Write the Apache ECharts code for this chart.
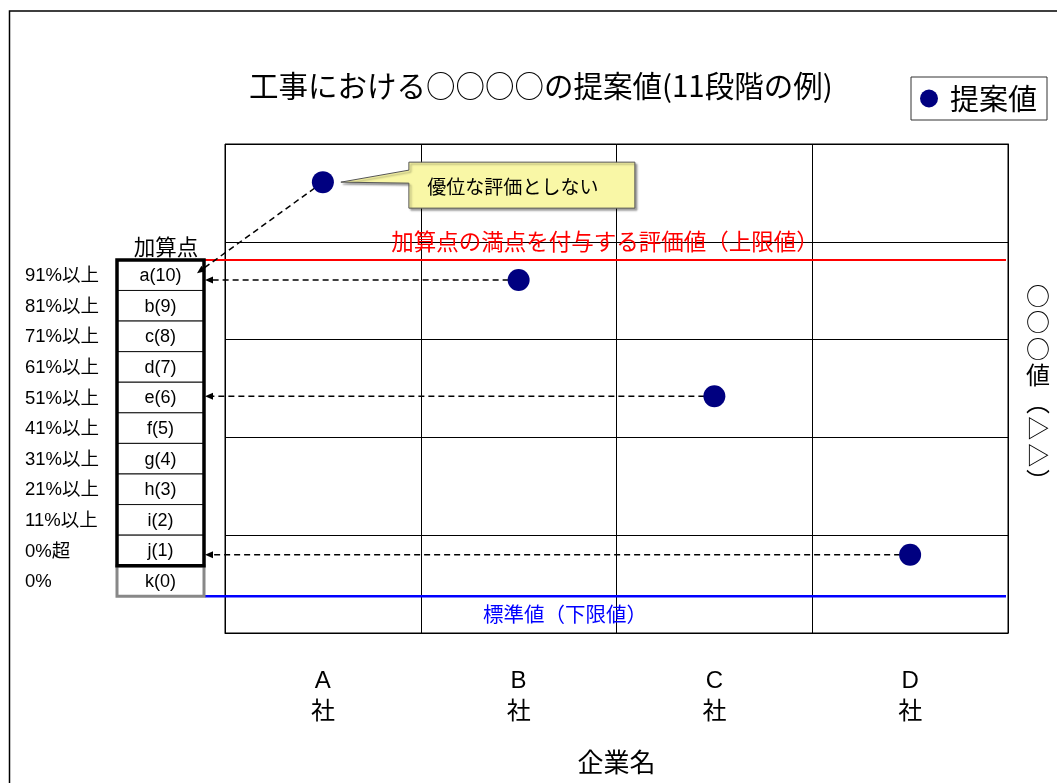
<!DOCTYPE html>
<html>
<head>
<meta charset="utf-8">
<script src="https://cdn.jsdelivr.net/npm/echarts@6/dist/echarts.min.js"></script>
<style>
  html, body { margin: 0; padding: 0; background: #fff; }
  #chart { width: 1057px; height: 783px; }
</style>
</head>
<body>
<div id="chart"></div>
<script>
// ---- data ----
const chartTitle = '工事における○○○○の提案値(11段階の例)';
const seriesName = '提案値';
const companies = ['A社', 'B社', 'C社', 'D社'];
const proposals = [92.2, 72.2, 48.4, 16.0];      // proposed value per company
const upperLimit = 76.3;                         // value that earns full bonus points
const lowerLimit = 7.5;                          // standard value
const upperLabel = '加算点の満点を付与する評価値（上限値）';
const lowerLabel = '標準値（下限値）';
const tableHeader = '加算点';
const rateLabels = ['91%以上', '81%以上', '71%以上', '61%以上', '51%以上', '41%以上',
                    '31%以上', '21%以上', '11%以上', '0%超', '0%'];
const scoreLabels = ['a(10)', 'b(9)', 'c(8)', 'd(7)', 'e(6)', 'f(5)',
                     'g(4)', 'h(3)', 'i(2)', 'j(1)', 'k(0)'];
const calloutText = '優位な評価としない';
const xAxisName = '企業名';
const yAxisName = '○○○値︵▷▷︶';

// ---- chart ----
const CJK = '"Noto Sans CJK JP"';
const MIXED = '"Liberation Sans", "Noto Sans CJK JP"';
const chart = echarts.init(document.getElementById('chart'), null, { renderer: 'canvas' });

chart.setOption({
  animation: false,
  backgroundColor: '#ffffff',
  title: {
    text: chartTitle,
    left: 244,
    top: 66,
    textStyle: { fontFamily: CJK, fontSize: 29.5, fontWeight: 'normal', color: '#000' }
  },
  legend: {
    left: 911,
    top: 77,
    padding: [7, 10, 7, 9],
    borderColor: '#333',
    borderWidth: 1,
    itemWidth: 18,
    itemHeight: 18,
    icon: 'circle',
    data: [seriesName],
    textStyle: { fontFamily: CJK, fontSize: 29, color: '#000', padding: [0, 0, 0, 7] }
  },
  grid: { left: 225, right: 49, top: 144, bottom: 150, show: true, borderColor: '#000', borderWidth: 1 },
  xAxis: {
    type: 'category',
    data: companies,
    axisLine: { show: true, lineStyle: { color: '#000', width: 1 } },
    axisTick: { show: false },
    splitLine: { show: true, interval: 0, lineStyle: { color: '#000', width: 1 } },
    axisLabel: {
      interval: 0,
      margin: 33,
      formatter: v => v.split('').join('\n'),
      fontFamily: MIXED,
      fontSize: 24,
      lineHeight: 31,
      color: '#000'
    },
    name: xAxisName,
    nameLocation: 'middle',
    nameGap: 116,
    nameTextStyle: { fontFamily: CJK, fontSize: 26, color: '#000' }
  },
  yAxis: {
    type: 'value',
    position: 'right',
    min: 0,
    max: 100,
    interval: 20,
    axisLabel: { show: false },
    axisTick: { show: false },
    axisLine: { show: true, lineStyle: { color: '#000', width: 1 } },
    splitLine: { show: true, lineStyle: { color: '#000', width: 1 } },
    name: yAxisName.split('').join('\n'),
    nameLocation: 'middle',
    nameRotate: 0,
    nameGap: 18,
    nameTextStyle: { fontFamily: CJK, fontSize: 24, lineHeight: 26.5, color: '#000' }
  },
  series: [{
    type: 'scatter',
    name: seriesName,
    data: proposals,
    symbolSize: 22,
    itemStyle: { color: '#000080', opacity: 1 },
    emphasis: { disabled: true },
    z: 5
  }]
});

// ---- overlay: limit lines, score table, arrows, callout ----
const yPix = v => chart.convertToPixel({ yAxisIndex: 0 }, v);
const ptPix = (i, v) => chart.convertToPixel({ gridIndex: 0 }, [i, v]);
const gridRect = chart.getModel().getComponent('grid').coordinateSystem.getRect();

const tableLeft = 117, tableRight = 204;
const yTop = yPix(upperLimit);
const yBottom = yPix(lowerLimit);
const rowH = (yBottom - yTop) / scoreLabels.length;
const lineStart = tableRight + 1;
const lineEnd = gridRect.x + gridRect.width - 2;

const g = [];

// outer frame
g.push({ type: 'rect', shape: { x: 9.5, y: 11, width: 1200, height: 1000 },
  style: { fill: 'none', stroke: '#000', lineWidth: 1.5 }, z: 0 });

// limit lines and their captions
g.push({ type: 'line', shape: { x1: lineStart, y1: yTop, x2: lineEnd, y2: yTop },
  style: { stroke: '#ff0000', lineWidth: 2 }, z: 2 });
g.push({ type: 'line', shape: { x1: lineStart, y1: yBottom, x2: lineEnd, y2: yBottom },
  style: { stroke: '#0000ff', lineWidth: 2.5 }, z: 2 });
g.push({ type: 'text', x: 605, y: yTop - 18, z: 3,
  style: { text: upperLabel, font: '22.5px ' + CJK, fill: '#ff0000', align: 'center', verticalAlign: 'middle' } });
g.push({ type: 'text', x: 565, y: yBottom + 18, z: 3,
  style: { text: lowerLabel, font: '20.5px ' + CJK, fill: '#0000ff', align: 'center', verticalAlign: 'middle' } });

// score table
g.push({ type: 'text', x: 166, y: yTop - 13, z: 3,
  style: { text: tableHeader, font: '21.5px ' + CJK, fill: '#000', align: 'center', verticalAlign: 'middle' } });
scoreLabels.forEach((s, i) => {
  const y = yTop + i * rowH;
  g.push({ type: 'rect', shape: { x: tableLeft, y: y, width: tableRight - tableLeft, height: rowH },
    style: { fill: '#fff', stroke: '#111', lineWidth: 1 }, z: 2 });
  g.push({ type: 'text', x: (tableLeft + tableRight) / 2, y: y + rowH / 2 + 1, z: 3,
    style: { text: s, font: '18px ' + MIXED, fill: '#000', align: 'center', verticalAlign: 'middle' } });
  g.push({ type: 'text', x: 25, y: y + rowH / 2 + 1, z: 3,
    style: { text: rateLabels[i], font: '18.5px ' + MIXED, fill: '#000', align: 'left', verticalAlign: 'middle' } });
});
const lastY = yTop + (scoreLabels.length - 1) * rowH;
g.push({ type: 'rect', shape: { x: tableLeft, y: lastY, width: tableRight - tableLeft, height: rowH },
  style: { fill: 'none', stroke: '#888', lineWidth: 3 }, z: 3 });
g.push({ type: 'rect', shape: { x: tableLeft, y: yTop, width: tableRight - tableLeft, height: lastY - yTop },
  style: { fill: 'none', stroke: '#000', lineWidth: 3.5 }, z: 4 });

// dashed arrows from each proposal to its score row
proposals.forEach((v, i) => {
  const [px, py] = ptPix(i, v);
  let tx = tableRight + 1, ty = py;
  if (py < yTop) { tx = tableRight - 7; ty = yTop + rowH / 2 - 2; }
  const dx = tx - px, dy = ty - py, len = Math.hypot(dx, dy);
  const ux = dx / len, uy = dy / len;
  const bx = tx - ux * 8, by = ty - uy * 8;
  g.push({ type: 'line', shape: { x1: px, y1: py, x2: bx, y2: by },
    style: { stroke: '#000', lineWidth: 1.5, lineDash: [6, 4] }, z: 4 });
  g.push({ type: 'polygon', z: 4,
    shape: { points: [[tx, ty], [bx - uy * 3.5, by + ux * 3.5], [bx + uy * 3.5, by - ux * 3.5]] },
    style: { fill: '#000' } });
});

// callout on the proposal above the upper limit
(function () {
  const [px, py] = ptPix(0, proposals[0]);
  const x0 = px + 86, x1 = px + 312, y0 = py - 20, y1 = py + 26;
  g.push({ type: 'polygon', z: 6,
    shape: { points: [[x0, y0], [x1, y0], [x1, y1], [x0, y1], [x0, py + 1], [px + 18, py], [x0, py - 12]] },
    style: { fill: '#f9f7a6', stroke: '#555', lineWidth: 1,
      shadowColor: 'rgba(0,0,0,0.35)', shadowOffsetX: 2, shadowOffsetY: 2, shadowBlur: 2 } });
  g.push({ type: 'text', x: px + 190, y: py + 5, z: 7,
    style: { text: calloutText, font: '19px ' + CJK, fill: '#000', align: 'center', verticalAlign: 'middle' } });
})();

chart.setOption({ graphic: { elements: g } });
</script>
</body>
</html>
